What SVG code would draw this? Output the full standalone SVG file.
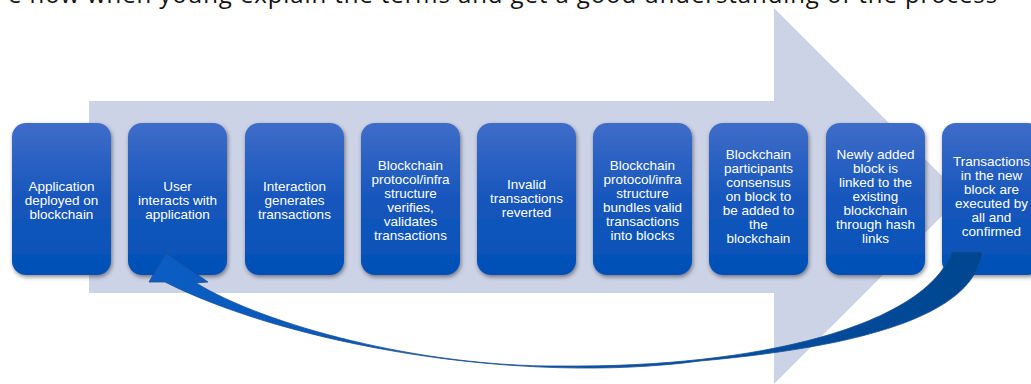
<svg xmlns="http://www.w3.org/2000/svg" width="1031" height="384" viewBox="0 0 1031 384">
  <defs>
    <linearGradient id="boxFill" x1="0" y1="0" x2="0" y2="1">
      <stop offset="0" stop-color="#3f6dc9"/>
      <stop offset="0.45" stop-color="#1a58bd"/>
      <stop offset="1" stop-color="#0050b6"/>
    </linearGradient>
    <linearGradient id="loopFill" x1="160" y1="0" x2="985" y2="0" gradientUnits="userSpaceOnUse">
      <stop offset="0" stop-color="#0b5dc3"/>
      <stop offset="0.55" stop-color="#0452ad"/>
      <stop offset="1" stop-color="#00468f"/>
    </linearGradient>
    <filter id="shadow" x="-20%" y="-20%" width="140%" height="140%">
      <feDropShadow dx="1" dy="2" stdDeviation="2" flood-color="#000" flood-opacity="0.45"/>
    </filter>
    <style>
      .caption { font-family: "Open Sans", "Noto Sans", sans-serif; font-size: 24px; letter-spacing: 0.9px; fill: #111; }
      .step rect { fill: url(#boxFill); filter: url(#shadow); }
      .step text { font-family: "Liberation Sans", Arial, sans-serif; font-size: 13.5px; fill: #ffffff; text-anchor: middle; }
      .backdrop { fill: #cdd3e6; }
      .loop { fill: url(#loopFill); stroke: #1d4f92; stroke-width: 0.8; }
    </style>
  </defs>

  <rect width="1031" height="384" fill="#ffffff"/>

  <!-- line of body text running above the figure -->
  <text class="caption" x="8" y="2.5">e how when young explain the terms and get a good understanding of the process</text>

  <!-- large process arrow behind the steps -->
  <polygon class="backdrop" points="89,101 774,101 774,8 962,196 774,384 774,293 89,293"/>

  <!-- process steps -->
  <g id="step1" class="step">
    <rect x="12" y="123" width="99" height="152" rx="14"/>
    <text x="61.5" y="190.5">Application</text>
    <text x="61.5" y="204.5">deployed on</text>
    <text x="61.5" y="218.5">blockchain</text>
  </g>
  <g id="step2" class="step">
    <rect x="128" y="123" width="99" height="152" rx="14"/>
    <text x="177.5" y="190.5">User</text>
    <text x="177.5" y="204.5">interacts with</text>
    <text x="177.5" y="218.5">application</text>
  </g>
  <g id="step3" class="step">
    <rect x="245" y="123" width="99" height="152" rx="14"/>
    <text x="294.5" y="190.5">Interaction</text>
    <text x="294.5" y="204.5">generates</text>
    <text x="294.5" y="218.5">transactions</text>
  </g>
  <g id="step4" class="step">
    <rect x="361" y="123" width="99" height="152" rx="14"/>
    <text x="410.5" y="169.5">Blockchain</text>
    <text x="410.5" y="183.5">protocol/infra</text>
    <text x="410.5" y="197.5">structure</text>
    <text x="410.5" y="211.5">verifies,</text>
    <text x="410.5" y="225.5">validates</text>
    <text x="410.5" y="239.5">transactions</text>
  </g>
  <g id="step5" class="step">
    <rect x="477" y="123" width="99" height="152" rx="14"/>
    <text x="526.5" y="188.5">Invalid</text>
    <text x="526.5" y="202.5">transactions</text>
    <text x="526.5" y="216.5">reverted</text>
  </g>
  <g id="step6" class="step">
    <rect x="593" y="123" width="99" height="152" rx="14"/>
    <text x="642.5" y="169.5">Blockchain</text>
    <text x="642.5" y="183.5">protocol/infra</text>
    <text x="642.5" y="197.5">structure</text>
    <text x="642.5" y="211.5">bundles valid</text>
    <text x="642.5" y="225.5">transactions</text>
    <text x="642.5" y="239.5">into blocks</text>
  </g>
  <g id="step7" class="step">
    <rect x="709" y="123" width="99" height="152" rx="14"/>
    <text x="758.5" y="159">Blockchain</text>
    <text x="758.5" y="173">participants</text>
    <text x="758.5" y="187">consensus</text>
    <text x="758.5" y="201">on block to</text>
    <text x="758.5" y="215">be added to</text>
    <text x="758.5" y="229">the</text>
    <text x="758.5" y="243">blockchain</text>
  </g>
  <g id="step8" class="step">
    <rect x="826" y="123" width="99" height="152" rx="14"/>
    <text x="875.5" y="159">Newly added</text>
    <text x="875.5" y="173">block is</text>
    <text x="875.5" y="187">linked to the</text>
    <text x="875.5" y="201">existing</text>
    <text x="875.5" y="215">blockchain</text>
    <text x="875.5" y="229">through hash</text>
    <text x="875.5" y="243">links</text>
  </g>
  <g id="step9" class="step">
    <rect x="942" y="123" width="99" height="152" rx="14"/>
    <text x="991.5" y="166">Transactions</text>
    <text x="991.5" y="180">in the new</text>
    <text x="991.5" y="194">block are</text>
    <text x="991.5" y="208">executed by</text>
    <text x="991.5" y="222">all and</text>
    <text x="991.5" y="236">confirmed</text>
  </g>

  <!-- return loop from the last step back to the user step -->
  <g id="connectors">
    <path class="loop" d="M982,252 C975,310 880,345 700,361 C520,385 290,345 165,282 L149,282 L166,253 L208,282 L196,283 C265,325 420,367 560,366 C760,368 925,325 952,252 Z"/>
  </g>
</svg>
